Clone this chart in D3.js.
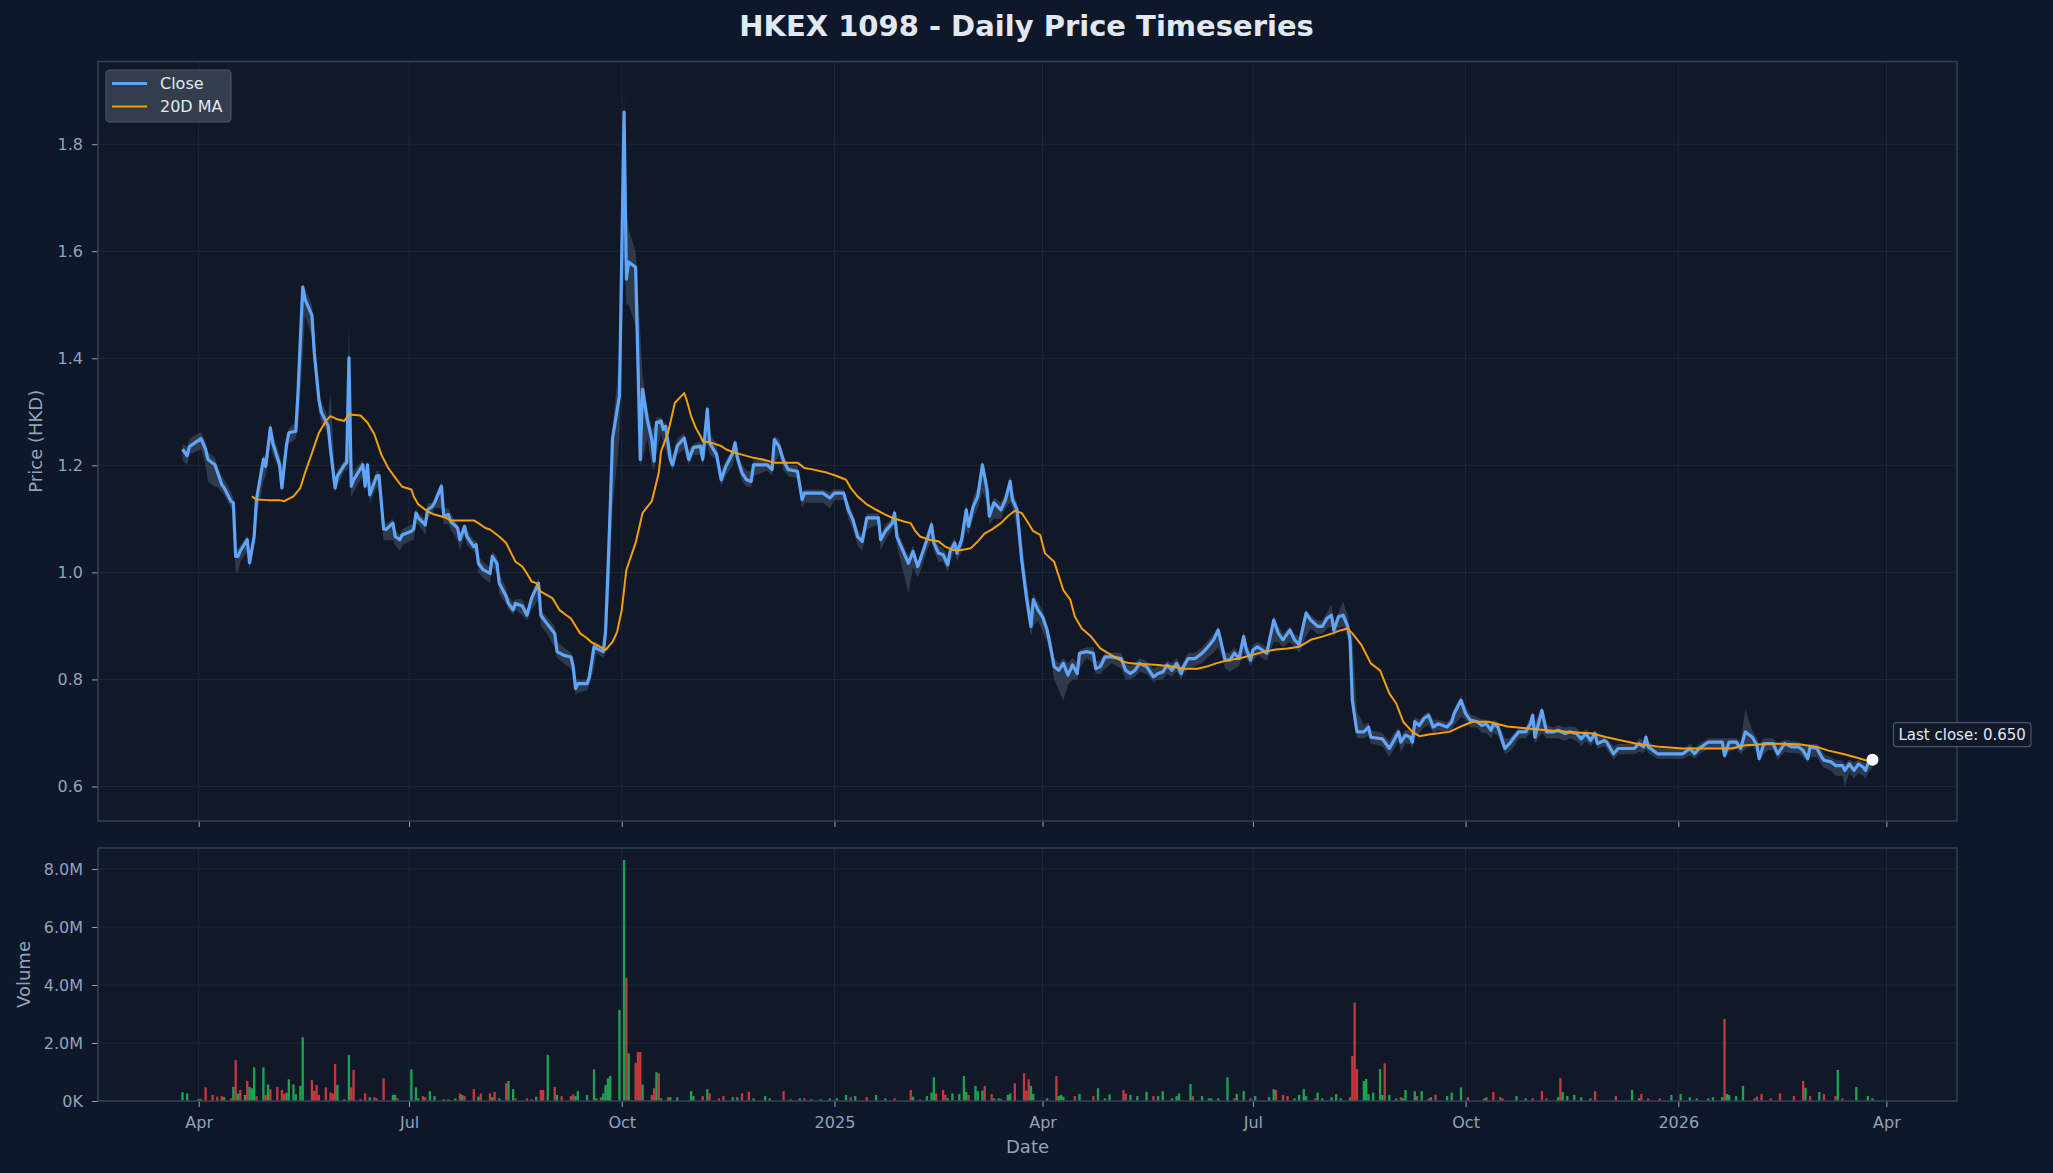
<!DOCTYPE html>
<html><head><meta charset="utf-8">
<script src="https://cdn.jsdelivr.net/npm/d3@7"></script>
<style>html,body{margin:0;padding:0;background:#0f172a;}svg{display:block}</style>
</head><body>
<script>
// [date, close, low, high]
const priceRows = [
["2024-03-25",1.230,1.210,1.240],["2024-03-27",1.218,1.200,1.235],["2024-03-28",1.235,1.220,1.250],
["2024-04-02",1.250,1.230,1.262],["2024-04-04",1.230,1.200,1.245],["2024-04-05",1.211,1.170,1.225],
["2024-04-08",1.201,1.160,1.215],["2024-04-09",1.189,1.160,1.200],["2024-04-11",1.164,1.150,1.180],
["2024-04-12",1.158,1.145,1.175],["2024-04-15",1.133,1.120,1.150],["2024-04-16",1.130,1.110,1.140],
["2024-04-17",1.030,1.000,1.040],["2024-04-18",1.030,1.000,1.045],["2024-04-19",1.040,1.020,1.050],
["2024-04-22",1.061,1.040,1.070],["2024-04-23",1.018,1.005,1.030],["2024-04-25",1.067,1.050,1.080],
["2024-04-26",1.136,1.100,1.150],["2024-04-29",1.211,1.170,1.220],["2024-04-30",1.198,1.180,1.215],
["2024-05-02",1.270,1.240,1.280],["2024-05-03",1.242,1.220,1.260],["2024-05-06",1.201,1.190,1.220],
["2024-05-07",1.158,1.150,1.200],["2024-05-09",1.239,1.220,1.250],["2024-05-10",1.261,1.240,1.270],
["2024-05-13",1.264,1.250,1.280],["2024-05-14",1.340,1.270,1.350],["2024-05-16",1.533,1.400,1.540],
["2024-05-17",1.510,1.480,1.530],["2024-05-20",1.480,1.440,1.500],["2024-05-21",1.410,1.380,1.450],
["2024-05-23",1.323,1.300,1.340],["2024-05-24",1.300,1.280,1.320],["2024-05-27",1.273,1.260,1.290],
["2024-05-28",1.230,1.220,1.335],["2024-05-30",1.158,1.150,1.180],["2024-05-31",1.180,1.160,1.190],
["2024-06-03",1.201,1.190,1.210],["2024-06-04",1.205,1.190,1.220],["2024-06-05",1.401,1.200,1.470],
["2024-06-06",1.161,1.140,1.220],["2024-06-07",1.173,1.150,1.190],["2024-06-11",1.201,1.180,1.210],
["2024-06-12",1.161,1.150,1.180],["2024-06-13",1.201,1.180,1.210],["2024-06-14",1.145,1.130,1.160],
["2024-06-17",1.180,1.160,1.190],["2024-06-18",1.181,1.150,1.190],["2024-06-20",1.081,1.060,1.100],
["2024-06-21",1.080,1.060,1.090],["2024-06-24",1.092,1.060,1.100],["2024-06-25",1.067,1.050,1.080],
["2024-06-27",1.061,1.040,1.070],["2024-06-28",1.070,1.050,1.080],["2024-07-02",1.077,1.060,1.090],
["2024-07-03",1.081,1.060,1.090],["2024-07-04",1.111,1.090,1.120],["2024-07-05",1.102,1.090,1.110],
["2024-07-08",1.089,1.070,1.100],["2024-07-09",1.117,1.100,1.130],["2024-07-11",1.123,1.110,1.130],
["2024-07-12",1.130,1.120,1.140],["2024-07-15",1.161,1.120,1.170],["2024-07-16",1.105,1.090,1.120],
["2024-07-18",1.108,1.090,1.120],["2024-07-19",1.095,1.080,1.110],["2024-07-22",1.083,1.060,1.090],
["2024-07-23",1.061,1.040,1.070],["2024-07-25",1.086,1.070,1.090],["2024-07-26",1.067,1.050,1.080],
["2024-07-29",1.048,1.040,1.060],["2024-07-30",1.052,1.030,1.060],["2024-07-31",1.017,1.000,1.030],
["2024-08-02",1.005,0.990,1.020],["2024-08-05",0.998,0.980,1.010],["2024-08-06",1.030,1.010,1.040],
["2024-08-08",1.017,1.000,1.030],["2024-08-09",0.980,0.960,1.000],["2024-08-12",0.955,0.940,0.970],
["2024-08-13",0.942,0.930,0.955],["2024-08-15",0.930,0.920,0.945],["2024-08-16",0.942,0.930,0.950],
["2024-08-19",0.937,0.920,0.950],["2024-08-21",0.920,0.910,0.930],["2024-08-23",0.952,0.930,0.960],
["2024-08-26",0.980,0.950,0.990],["2024-08-27",0.920,0.900,0.930],["2024-08-29",0.908,0.890,0.920],
["2024-09-02",0.886,0.860,0.900],["2024-09-03",0.852,0.840,0.870],["2024-09-06",0.845,0.830,0.860],
["2024-09-09",0.842,0.820,0.850],["2024-09-10",0.824,0.810,0.840],["2024-09-11",0.783,0.770,0.800],
["2024-09-12",0.792,0.775,0.800],["2024-09-16",0.792,0.780,0.800],["2024-09-17",0.805,0.790,0.820],
["2024-09-19",0.861,0.820,0.870],["2024-09-20",0.858,0.850,0.870],["2024-09-23",0.852,0.840,0.860],
["2024-09-24",0.890,0.850,0.900],["2024-09-25",1.000,0.920,1.010],["2024-09-26",1.120,1.000,1.140],
["2024-09-27",1.250,1.120,1.270],["2024-09-30",1.330,1.250,1.400],["2024-10-02",1.860,1.600,1.890],
["2024-10-03",1.548,1.500,1.680],["2024-10-04",1.580,1.500,1.640],["2024-10-07",1.570,1.460,1.600],
["2024-10-09",1.211,1.200,1.450],["2024-10-10",1.342,1.210,1.370],["2024-10-12",1.286,1.250,1.310],
["2024-10-14",1.248,1.200,1.270],["2024-10-15",1.208,1.190,1.270],["2024-10-16",1.280,1.220,1.290],
["2024-10-18",1.283,1.260,1.290],["2024-10-19",1.267,1.240,1.280],["2024-10-20",1.273,1.230,1.280],
["2024-10-22",1.211,1.200,1.240],["2024-10-23",1.201,1.190,1.220],["2024-10-25",1.236,1.220,1.250],
["2024-10-28",1.251,1.230,1.260],["2024-10-30",1.211,1.200,1.230],["2024-11-01",1.233,1.220,1.240],
["2024-11-04",1.236,1.220,1.245],["2024-11-05",1.211,1.200,1.230],["2024-11-07",1.305,1.240,1.315],
["2024-11-08",1.242,1.220,1.260],["2024-11-11",1.220,1.210,1.240],["2024-11-13",1.173,1.160,1.190],
["2024-11-15",1.198,1.180,1.210],["2024-11-18",1.223,1.200,1.230],["2024-11-19",1.242,1.220,1.250],
["2024-11-20",1.214,1.200,1.230],["2024-11-22",1.186,1.170,1.200],["2024-11-24",1.173,1.160,1.190],
["2024-11-26",1.170,1.160,1.190],["2024-11-27",1.201,1.180,1.210],["2024-12-03",1.201,1.190,1.210],
["2024-12-05",1.192,1.180,1.200],["2024-12-06",1.248,1.200,1.255],["2024-12-08",1.236,1.220,1.250],
["2024-12-10",1.208,1.190,1.220],["2024-12-12",1.192,1.180,1.200],["2024-12-16",1.189,1.175,1.200],
["2024-12-18",1.136,1.120,1.150],["2024-12-19",1.148,1.130,1.155],["2024-12-27",1.148,1.130,1.155],
["2024-12-30",1.139,1.120,1.150],["2025-01-01",1.148,1.135,1.155],["2025-01-05",1.148,1.135,1.155],
["2025-01-07",1.117,1.100,1.130],["2025-01-09",1.098,1.080,1.110],["2025-01-11",1.067,1.050,1.080],
["2025-01-13",1.058,1.040,1.070],["2025-01-15",1.102,1.080,1.110],["2025-01-20",1.102,1.090,1.110],
["2025-01-21",1.061,1.040,1.070],["2025-01-23",1.077,1.060,1.090],["2025-01-26",1.092,1.080,1.100],
["2025-01-27",1.111,1.090,1.120],["2025-01-28",1.067,1.050,1.080],["2025-02-02",1.017,0.960,1.030],
["2025-02-04",1.039,1.010,1.050],["2025-02-06",1.011,0.990,1.020],["2025-02-07",1.023,1.000,1.030],
["2025-02-10",1.061,1.040,1.070],["2025-02-12",1.089,1.060,1.100],["2025-02-13",1.055,1.040,1.070],
["2025-02-15",1.036,1.020,1.050],["2025-02-17",1.033,1.020,1.045],["2025-02-19",1.014,1.000,1.030],
["2025-02-20",1.039,1.020,1.050],["2025-02-22",1.055,1.040,1.065],["2025-02-23",1.036,1.020,1.050],
["2025-02-25",1.061,1.040,1.070],["2025-02-27",1.117,1.080,1.130],["2025-02-28",1.086,1.070,1.100],
["2025-03-02",1.123,1.100,1.140],["2025-03-04",1.142,1.120,1.160],["2025-03-06",1.201,1.150,1.210],
["2025-03-08",1.155,1.130,1.170],["2025-03-09",1.105,1.090,1.120],["2025-03-11",1.130,1.100,1.140],
["2025-03-14",1.117,1.100,1.130],["2025-03-16",1.136,1.120,1.150],["2025-03-18",1.170,1.130,1.180],
["2025-03-19",1.136,1.120,1.150],["2025-03-21",1.117,1.080,1.130],["2025-03-23",1.023,1.000,1.060],
["2025-03-25",0.955,0.930,0.990],["2025-03-27",0.899,0.880,0.930],["2025-03-28",0.949,0.900,0.960],
["2025-03-30",0.930,0.910,0.945],["2025-04-01",0.917,0.890,0.930],["2025-04-03",0.892,0.870,0.905],
["2025-04-05",0.849,0.830,0.870],["2025-04-06",0.824,0.800,0.840],["2025-04-08",0.817,0.780,0.830],
["2025-04-10",0.830,0.760,0.840],["2025-04-12",0.808,0.790,0.830],["2025-04-14",0.827,0.800,0.840],
["2025-04-16",0.811,0.800,0.830],["2025-04-17",0.849,0.820,0.855],["2025-04-20",0.852,0.840,0.860],
["2025-04-23",0.849,0.830,0.860],["2025-04-24",0.820,0.810,0.835],["2025-04-26",0.824,0.810,0.835],
["2025-04-28",0.842,0.820,0.850],["2025-05-01",0.842,0.830,0.850],["2025-05-05",0.839,0.820,0.850],
["2025-05-07",0.817,0.800,0.830],["2025-05-09",0.811,0.800,0.825],["2025-05-11",0.817,0.805,0.830],
["2025-05-13",0.830,0.815,0.840],["2025-05-16",0.824,0.810,0.835],["2025-05-19",0.805,0.795,0.820],
["2025-05-21",0.811,0.800,0.825],["2025-05-23",0.814,0.800,0.825],["2025-05-25",0.827,0.810,0.835],
["2025-05-27",0.817,0.805,0.830],["2025-05-29",0.830,0.815,0.840],["2025-05-31",0.811,0.800,0.825],
["2025-06-01",0.824,0.810,0.835],["2025-06-03",0.839,0.820,0.850],["2025-06-06",0.839,0.825,0.850],
["2025-06-09",0.849,0.830,0.860],["2025-06-11",0.858,0.840,0.870],["2025-06-14",0.874,0.850,0.885],
["2025-06-16",0.892,0.860,0.900],["2025-06-17",0.874,0.850,0.885],["2025-06-19",0.836,0.820,0.850],
["2025-06-21",0.836,0.815,0.850],["2025-06-23",0.849,0.820,0.860],["2025-06-25",0.839,0.825,0.850],
["2025-06-27",0.880,0.850,0.890],["2025-06-28",0.858,0.840,0.870],["2025-06-30",0.836,0.825,0.850],
["2025-07-01",0.855,0.835,0.865],["2025-07-03",0.861,0.845,0.870],["2025-07-05",0.855,0.840,0.865],
["2025-07-07",0.849,0.835,0.860],["2025-07-08",0.870,0.845,0.880],["2025-07-10",0.911,0.870,0.920],
["2025-07-12",0.886,0.870,0.900],["2025-07-14",0.874,0.860,0.885],["2025-07-17",0.892,0.870,0.900],
["2025-07-19",0.874,0.860,0.885],["2025-07-21",0.865,0.850,0.880],["2025-07-24",0.924,0.880,0.930],
["2025-07-26",0.911,0.895,0.920],["2025-07-29",0.899,0.885,0.910],["2025-07-31",0.899,0.885,0.910],
["2025-08-02",0.914,0.895,0.925],["2025-08-04",0.920,0.900,0.940],["2025-08-05",0.892,0.880,0.905],
["2025-08-07",0.917,0.895,0.925],["2025-08-09",0.920,0.900,0.945],["2025-08-11",0.899,0.880,0.920],
["2025-08-12",0.874,0.860,0.890],["2025-08-13",0.761,0.740,0.880],["2025-08-15",0.702,0.690,0.740],
["2025-08-18",0.702,0.690,0.715],["2025-08-20",0.711,0.695,0.720],["2025-08-21",0.692,0.680,0.705],
["2025-08-26",0.689,0.675,0.700],["2025-08-29",0.671,0.655,0.685],["2025-08-31",0.686,0.670,0.700],
["2025-09-02",0.702,0.685,0.710],["2025-09-03",0.683,0.665,0.695],["2025-09-05",0.696,0.680,0.705],
["2025-09-07",0.692,0.680,0.705],["2025-09-08",0.683,0.670,0.700],["2025-09-09",0.721,0.690,0.730],
["2025-09-11",0.714,0.700,0.725],["2025-09-13",0.727,0.710,0.735],["2025-09-15",0.733,0.715,0.740],
["2025-09-17",0.711,0.700,0.725],["2025-09-19",0.717,0.705,0.725],["2025-09-23",0.711,0.700,0.720],
["2025-09-25",0.721,0.705,0.730],["2025-09-26",0.736,0.715,0.745],["2025-09-29",0.761,0.730,0.770],
["2025-10-01",0.736,0.725,0.750],["2025-10-03",0.724,0.710,0.735],["2025-10-06",0.721,0.710,0.730],
["2025-10-08",0.714,0.700,0.725],["2025-10-10",0.717,0.700,0.725],["2025-10-12",0.705,0.690,0.715],
["2025-10-13",0.717,0.700,0.725],["2025-10-15",0.711,0.695,0.720],["2025-10-18",0.671,0.660,0.690],
["2025-10-20",0.680,0.665,0.690],["2025-10-22",0.692,0.675,0.700],["2025-10-24",0.702,0.690,0.710],
["2025-10-27",0.702,0.690,0.710],["2025-10-29",0.717,0.700,0.730],["2025-10-30",0.733,0.705,0.740],
["2025-10-31",0.692,0.680,0.720],["2025-11-03",0.742,0.700,0.750],["2025-11-05",0.702,0.690,0.715],
["2025-11-08",0.702,0.690,0.710],["2025-11-10",0.705,0.690,0.715],["2025-11-13",0.699,0.685,0.710],
["2025-11-15",0.702,0.690,0.712],["2025-11-18",0.699,0.685,0.710],["2025-11-20",0.689,0.675,0.700],
["2025-11-22",0.699,0.685,0.708],["2025-11-24",0.686,0.675,0.700],["2025-11-26",0.699,0.685,0.705],
["2025-11-27",0.680,0.670,0.695],["2025-11-30",0.686,0.675,0.695],["2025-12-01",0.683,0.670,0.690],
["2025-12-04",0.661,0.650,0.675],["2025-12-06",0.671,0.660,0.680],["2025-12-10",0.671,0.660,0.680],
["2025-12-13",0.671,0.660,0.680],["2025-12-15",0.680,0.665,0.690],["2025-12-17",0.674,0.662,0.685],
["2025-12-18",0.692,0.670,0.700],["2025-12-19",0.674,0.662,0.685],["2025-12-23",0.661,0.652,0.672],
["2025-12-30",0.661,0.652,0.670],["2026-01-03",0.661,0.652,0.670],["2026-01-06",0.671,0.658,0.680],
["2026-01-08",0.661,0.652,0.672],["2026-01-10",0.671,0.660,0.680],["2026-01-14",0.683,0.670,0.690],
["2026-01-20",0.683,0.670,0.690],["2026-01-21",0.658,0.650,0.690],["2026-01-23",0.683,0.665,0.690],
["2026-01-26",0.683,0.670,0.690],["2026-01-28",0.671,0.660,0.685],["2026-01-30",0.702,0.670,0.745],
["2026-02-02",0.692,0.675,0.705],["2026-02-04",0.677,0.665,0.690],["2026-02-05",0.652,0.645,0.680],
["2026-02-07",0.680,0.660,0.690],["2026-02-09",0.680,0.668,0.690],["2026-02-11",0.680,0.668,0.690],
["2026-02-13",0.661,0.650,0.680],["2026-02-16",0.680,0.665,0.688],["2026-02-19",0.674,0.662,0.685],
["2026-02-22",0.674,0.662,0.683],["2026-02-24",0.667,0.655,0.680],["2026-02-26",0.652,0.645,0.678],
["2026-02-27",0.674,0.655,0.680],["2026-03-02",0.671,0.655,0.680],["2026-03-04",0.655,0.640,0.670],
["2026-03-05",0.649,0.635,0.660],["2026-03-08",0.646,0.630,0.655],["2026-03-10",0.639,0.620,0.650],
["2026-03-13",0.639,0.620,0.648],["2026-03-14",0.630,0.600,0.642],["2026-03-16",0.642,0.625,0.650],
["2026-03-18",0.630,0.615,0.645],["2026-03-20",0.642,0.625,0.650],["2026-03-22",0.636,0.620,0.645],
["2026-03-23",0.630,0.615,0.645],["2026-03-24",0.642,0.625,0.650],["2026-03-26",0.650,0.635,0.655]
];

// [date, 20-day moving average]
const maRows = [
["2024-04-24",1.142],["2024-04-26",1.136],["2024-05-01",1.135],["2024-05-06",1.135],["2024-05-08",1.133],
["2024-05-12",1.142],["2024-05-15",1.158],["2024-05-17",1.186],["2024-05-20",1.223],["2024-05-23",1.261],
["2024-05-26",1.283],["2024-05-28",1.292],["2024-05-31",1.286],["2024-06-03",1.283],["2024-06-05",1.295],
["2024-06-10",1.293],["2024-06-13",1.280],["2024-06-16",1.258],["2024-06-19",1.220],["2024-06-22",1.195],
["2024-06-25",1.177],["2024-06-28",1.160],["2024-07-02",1.155],["2024-07-03",1.142],["2024-07-05",1.127],
["2024-07-09",1.114],["2024-07-12",1.108],["2024-07-17",1.102],["2024-07-19",1.097],["2024-07-29",1.097],
["2024-07-31",1.092],["2024-08-03",1.083],["2024-08-05",1.080],["2024-08-09",1.067],["2024-08-12",1.055],
["2024-08-16",1.020],["2024-08-19",1.011],["2024-08-21",0.998],["2024-08-23",0.983],["2024-08-25",0.980],
["2024-08-27",0.964],["2024-09-01",0.952],["2024-09-04",0.930],["2024-09-07",0.920],["2024-09-09",0.914],
["2024-09-13",0.886],["2024-09-16",0.877],["2024-09-18",0.869],["2024-09-21",0.862],["2024-09-24",0.855],
["2024-09-27",0.870],["2024-09-29",0.889],["2024-10-01",0.930],["2024-10-03",1.005],["2024-10-05",1.030],
["2024-10-07",1.055],["2024-10-10",1.111],["2024-10-14",1.133],["2024-10-17",1.186],["2024-10-18",1.226],
["2024-10-21",1.261],["2024-10-24",1.317],["2024-10-28",1.335],["2024-10-29",1.323],["2024-10-31",1.292],
["2024-11-02",1.270],["2024-11-04",1.255],["2024-11-05",1.245],["2024-11-09",1.242],["2024-11-13",1.236],
["2024-11-15",1.230],["2024-11-18",1.225],["2024-11-22",1.220],["2024-11-27",1.214],["2024-12-01",1.211],
["2024-12-06",1.205],["2024-12-16",1.205],["2024-12-19",1.195],["2024-12-23",1.192],["2024-12-29",1.186],
["2025-01-02",1.180],["2025-01-06",1.173],["2025-01-08",1.158],["2025-01-11",1.142],["2025-01-15",1.127],
["2025-01-19",1.117],["2025-01-23",1.108],["2025-01-26",1.102],["2025-01-31",1.095],["2025-02-03",1.092],
["2025-02-05",1.077],["2025-02-07",1.067],["2025-02-11",1.061],["2025-02-15",1.058],["2025-02-18",1.048],
["2025-02-21",1.042],["2025-02-25",1.042],["2025-03-01",1.045],["2025-03-04",1.058],["2025-03-07",1.073],
["2025-03-10",1.080],["2025-03-14",1.092],["2025-03-17",1.105],["2025-03-20",1.115],["2025-03-23",1.111],
["2025-03-25",1.098],["2025-03-28",1.077],["2025-03-31",1.070],["2025-04-02",1.036],["2025-04-06",1.020],
["2025-04-10",0.967],["2025-04-13",0.949],["2025-04-15",0.917],["2025-04-18",0.895],["2025-04-22",0.880],
["2025-04-26",0.858],["2025-05-02",0.842],["2025-05-06",0.833],["2025-05-09",0.830],["2025-05-21",0.827],
["2025-05-27",0.824],["2025-06-01",0.820],["2025-06-07",0.820],["2025-06-11",0.824],["2025-06-15",0.830],
["2025-06-20",0.836],["2025-06-25",0.839],["2025-06-30",0.845],["2025-07-06",0.852],["2025-07-11",0.856],
["2025-07-16",0.858],["2025-07-21",0.861],["2025-07-26",0.874],["2025-07-31",0.880],["2025-08-05",0.887],
["2025-08-08",0.892],["2025-08-11",0.895],["2025-08-13",0.886],["2025-08-17",0.864],["2025-08-21",0.830],
["2025-08-25",0.817],["2025-08-29",0.774],["2025-09-01",0.755],["2025-09-04",0.721],["2025-09-08",0.702],
["2025-09-11",0.694],["2025-09-15",0.697],["2025-09-24",0.702],["2025-09-30",0.714],["2025-10-04",0.721],
["2025-10-11",0.721],["2025-10-19",0.712],["2025-10-29",0.708],["2025-11-08",0.704],["2025-11-15",0.702],
["2025-11-25",0.699],["2025-12-01",0.692],["2025-12-14",0.680],["2025-12-24",0.674],["2026-01-03",0.671],
["2026-01-14",0.671],["2026-01-24",0.671],["2026-01-30",0.677],["2026-02-10",0.680],["2026-02-22",0.679],
["2026-03-02",0.674],["2026-03-07",0.667],["2026-03-13",0.661],["2026-03-19",0.654],["2026-03-23",0.649],
["2026-03-26",0.647]
];

// [date, volume in millions, direction u=up d=down]
const volumeRows = [
["2024-03-25",0.30,"u"],["2024-03-27",0.26,"u"],["2024-04-01",0.07,"u"],["2024-04-02",0.07,"d"],["2024-04-04",0.47,"d"],
["2024-04-07",0.21,"d"],["2024-04-09",0.15,"d"],["2024-04-11",0.17,"d"],["2024-04-12",0.13,"u"],["2024-04-15",0.09,"d"],
["2024-04-16",0.49,"u"],["2024-04-17",1.41,"d"],["2024-04-18",0.26,"u"],["2024-04-19",0.38,"d"],["2024-04-21",0.21,"u"],
["2024-04-22",0.69,"d"],["2024-04-23",0.49,"u"],["2024-04-24",0.44,"u"],["2024-04-25",1.16,"u"],["2024-04-26",0.17,"d"],
["2024-04-29",1.16,"u"],["2024-04-30",0.21,"d"],["2024-05-01",0.57,"u"],["2024-05-02",0.40,"d"],["2024-05-05",0.49,"d"],
["2024-05-07",0.38,"d"],["2024-05-08",0.24,"d"],["2024-05-09",0.29,"u"],["2024-05-10",0.75,"u"],["2024-05-12",0.57,"u"],
["2024-05-13",0.24,"u"],["2024-05-15",0.52,"u"],["2024-05-16",2.20,"u"],["2024-05-20",0.72,"d"],["2024-05-21",0.35,"d"],
["2024-05-22",0.55,"d"],["2024-05-23",0.21,"d"],["2024-05-26",0.47,"d"],["2024-05-28",0.29,"d"],["2024-05-29",0.26,"d"],
["2024-05-30",1.28,"d"],["2024-05-31",0.55,"u"],["2024-06-03",0.06,"u"],["2024-06-05",1.59,"u"],["2024-06-06",0.47,"d"],
["2024-06-07",1.07,"d"],["2024-06-10",0.06,"u"],["2024-06-12",0.26,"d"],["2024-06-14",0.13,"u"],["2024-06-16",0.13,"d"],
["2024-06-17",0.09,"d"],["2024-06-20",0.78,"d"],["2024-06-24",0.21,"u"],["2024-06-25",0.21,"u"],["2024-06-26",0.09,"d"],
["2024-07-02",1.09,"u"],["2024-07-04",0.47,"u"],["2024-07-05",0.09,"u"],["2024-07-07",0.17,"d"],["2024-07-08",0.13,"d"],
["2024-07-10",0.34,"u"],["2024-07-12",0.17,"u"],["2024-07-16",0.06,"u"],["2024-07-18",0.06,"u"],["2024-07-21",0.09,"u"],
["2024-07-23",0.26,"d"],["2024-07-24",0.21,"u"],["2024-07-25",0.17,"d"],["2024-07-29",0.41,"d"],["2024-07-31",0.15,"u"],
["2024-08-01",0.26,"d"],["2024-08-05",0.26,"d"],["2024-08-06",0.13,"u"],["2024-08-07",0.31,"d"],["2024-08-09",0.09,"u"],
["2024-08-12",0.61,"d"],["2024-08-13",0.69,"u"],["2024-08-15",0.41,"u"],["2024-08-16",0.09,"d"],["2024-08-21",0.09,"d"],
["2024-08-23",0.06,"d"],["2024-08-25",0.15,"u"],["2024-08-27",0.38,"d"],["2024-08-28",0.38,"d"],["2024-08-30",1.59,"u"],
["2024-09-02",0.49,"d"],["2024-09-03",0.21,"u"],["2024-09-05",0.17,"d"],["2024-09-09",0.17,"d"],["2024-09-10",0.23,"d"],
["2024-09-11",0.17,"u"],["2024-09-12",0.34,"u"],["2024-09-16",0.21,"u"],["2024-09-19",1.09,"u"],["2024-09-20",0.09,"u"],
["2024-09-22",0.13,"d"],["2024-09-23",0.26,"u"],["2024-09-24",0.55,"u"],["2024-09-25",0.78,"u"],["2024-09-26",0.86,"u"],
["2024-09-30",3.14,"u"],["2024-10-02",8.31,"u"],["2024-10-03",4.25,"d"],["2024-10-04",1.64,"u"],["2024-10-07",1.32,"d"],
["2024-10-08",1.69,"d"],["2024-10-09",1.69,"d"],["2024-10-10",0.57,"u"],["2024-10-14",0.21,"d"],["2024-10-15",0.44,"d"],
["2024-10-16",0.99,"u"],["2024-10-17",0.95,"d"],["2024-10-18",0.09,"u"],["2024-10-21",0.13,"d"],["2024-10-22",0.13,"u"],
["2024-10-25",0.13,"u"],["2024-10-31",0.34,"u"],["2024-11-01",0.17,"u"],["2024-11-05",0.17,"d"],["2024-11-07",0.41,"u"],
["2024-11-08",0.26,"d"],["2024-11-12",0.09,"d"],["2024-11-14",0.17,"d"],["2024-11-18",0.13,"u"],["2024-11-20",0.13,"u"],
["2024-11-22",0.26,"d"],["2024-11-25",0.32,"d"],["2024-11-27",0.09,"u"],["2024-12-02",0.17,"u"],["2024-12-04",0.09,"u"],
["2024-12-10",0.34,"d"],["2024-12-13",0.06,"d"],["2024-12-17",0.09,"u"],["2024-12-19",0.09,"d"],["2024-12-22",0.06,"u"],
["2024-12-26",0.06,"u"],["2024-12-30",0.09,"u"],["2025-01-02",0.09,"u"],["2025-01-06",0.21,"u"],["2025-01-08",0.13,"d"],
["2025-01-10",0.17,"u"],["2025-01-15",0.13,"d"],["2025-01-19",0.21,"u"],["2025-01-23",0.09,"u"],["2025-01-27",0.09,"d"],
["2025-02-03",0.38,"d"],["2025-02-04",0.15,"u"],["2025-02-07",0.06,"d"],["2025-02-10",0.17,"u"],["2025-02-12",0.29,"u"],
["2025-02-13",0.82,"u"],["2025-02-14",0.26,"d"],["2025-02-17",0.38,"d"],["2025-02-18",0.21,"d"],["2025-02-19",0.09,"u"],
["2025-02-21",0.26,"u"],["2025-02-24",0.24,"u"],["2025-02-26",0.86,"u"],["2025-02-27",0.31,"u"],["2025-02-28",0.21,"d"],
["2025-03-03",0.52,"u"],["2025-03-04",0.34,"u"],["2025-03-06",0.36,"u"],["2025-03-07",0.52,"d"],["2025-03-10",0.24,"d"],
["2025-03-11",0.09,"u"],["2025-03-13",0.09,"u"],["2025-03-14",0.06,"u"],["2025-03-17",0.21,"u"],["2025-03-18",0.26,"u"],
["2025-03-20",0.61,"d"],["2025-03-24",0.95,"d"],["2025-03-25",0.36,"d"],["2025-03-26",0.75,"d"],["2025-03-27",0.52,"u"],
["2025-03-28",0.24,"u"],["2025-04-03",0.09,"u"],["2025-04-07",0.86,"d"],["2025-04-08",0.17,"u"],["2025-04-09",0.21,"u"],
["2025-04-10",0.15,"u"],["2025-04-15",0.17,"d"],["2025-04-17",0.24,"u"],["2025-04-23",0.17,"d"],["2025-04-25",0.44,"u"],
["2025-04-28",0.09,"u"],["2025-04-30",0.23,"u"],["2025-05-06",0.38,"d"],["2025-05-07",0.26,"d"],["2025-05-09",0.21,"u"],
["2025-05-12",0.17,"u"],["2025-05-16",0.32,"u"],["2025-05-19",0.17,"d"],["2025-05-21",0.17,"u"],["2025-05-23",0.34,"u"],
["2025-05-27",0.09,"u"],["2025-05-29",0.17,"u"],["2025-05-30",0.26,"u"],["2025-06-04",0.59,"u"],["2025-06-05",0.17,"d"],
["2025-06-09",0.17,"u"],["2025-06-12",0.09,"u"],["2025-06-13",0.09,"u"],["2025-06-16",0.09,"u"],["2025-06-20",0.82,"u"],
["2025-06-23",0.09,"d"],["2025-06-24",0.24,"u"],["2025-06-27",0.34,"u"],["2025-06-30",0.09,"d"],["2025-07-02",0.17,"u"],
["2025-07-08",0.13,"u"],["2025-07-10",0.41,"u"],["2025-07-11",0.38,"d"],["2025-07-14",0.21,"d"],["2025-07-16",0.17,"d"],
["2025-07-19",0.09,"u"],["2025-07-21",0.21,"u"],["2025-07-23",0.41,"u"],["2025-07-24",0.17,"u"],["2025-07-28",0.09,"d"],
["2025-07-29",0.29,"u"],["2025-07-31",0.09,"u"],["2025-08-04",0.13,"u"],["2025-08-06",0.24,"u"],["2025-08-08",0.09,"u"],
["2025-08-12",0.13,"d"],["2025-08-13",1.55,"d"],["2025-08-14",3.40,"d"],["2025-08-15",1.10,"d"],["2025-08-18",0.69,"u"],
["2025-08-19",0.76,"u"],["2025-08-20",0.24,"u"],["2025-08-22",0.29,"u"],["2025-08-25",1.10,"u"],["2025-08-26",0.21,"u"],
["2025-08-27",1.30,"d"],["2025-08-29",0.21,"u"],["2025-09-01",0.09,"u"],["2025-09-03",0.13,"d"],["2025-09-04",0.09,"u"],
["2025-09-05",0.38,"u"],["2025-09-09",0.34,"u"],["2025-09-10",0.17,"d"],["2025-09-12",0.34,"u"],["2025-09-15",0.09,"d"],
["2025-09-16",0.13,"u"],["2025-09-18",0.21,"d"],["2025-09-23",0.17,"u"],["2025-09-25",0.29,"u"],["2025-09-29",0.47,"u"],
["2025-10-02",0.13,"d"],["2025-10-09",0.09,"d"],["2025-10-10",0.13,"u"],["2025-10-13",0.31,"d"],["2025-10-16",0.13,"d"],
["2025-10-17",0.09,"d"],["2025-10-23",0.17,"u"],["2025-10-27",0.09,"u"],["2025-10-30",0.09,"d"],["2025-11-03",0.34,"d"],
["2025-11-05",0.09,"d"],["2025-11-10",0.13,"u"],["2025-11-11",0.79,"d"],["2025-11-12",0.31,"u"],["2025-11-14",0.17,"u"],
["2025-11-17",0.21,"u"],["2025-11-20",0.13,"u"],["2025-11-24",0.09,"u"],["2025-11-26",0.34,"d"],["2025-12-05",0.17,"d"],
["2025-12-12",0.38,"u"],["2025-12-15",0.09,"u"],["2025-12-16",0.24,"d"],["2025-12-19",0.09,"d"],["2025-12-24",0.09,"d"],
["2025-12-29",0.21,"u"],["2026-01-02",0.24,"u"],["2026-01-06",0.13,"u"],["2026-01-09",0.09,"u"],["2026-01-14",0.09,"u"],
["2026-01-16",0.13,"u"],["2026-01-20",0.13,"u"],["2026-01-21",2.83,"d"],["2026-01-22",0.24,"u"],["2026-01-23",0.21,"u"],
["2026-01-26",0.17,"u"],["2026-01-29",0.52,"u"],["2026-02-03",0.09,"d"],["2026-02-04",0.15,"d"],["2026-02-06",0.24,"d"],
["2026-02-10",0.09,"d"],["2026-02-14",0.26,"d"],["2026-02-20",0.17,"d"],["2026-02-24",0.69,"d"],["2026-02-25",0.46,"u"],
["2026-02-27",0.17,"d"],["2026-03-03",0.31,"u"],["2026-03-05",0.24,"d"],["2026-03-10",0.17,"d"],["2026-03-11",1.07,"u"],
["2026-03-13",0.09,"d"],["2026-03-19",0.48,"u"],["2026-03-24",0.17,"u"],["2026-03-26",0.09,"u"]
];

const xTickDates = ["2024-04-01","2024-07-01","2024-10-01","2025-01-01","2025-04-01","2025-07-01","2025-10-01","2026-01-01","2026-04-01"];
const xTickLabels = ["Apr","Jul","Oct","2025","Apr","Jul","Oct","2026","Apr"];
const priceTicks = [0.6,0.8,1.0,1.2,1.4,1.6,1.8];
const volumeTicks = [0,2e6,4e6,6e6,8e6];
const seriesNames = ["Close","20D MA"];
const titleText = "HKEX 1098 - Daily Price Timeseries";

const W = 2053, H = 1173;
const L = 98, R = 1957, pTop = 61.5, pBot = 821, vTop = 848, vBot = 1101;
const C = {bg:"#0f172a", face:"#111827", grid:"#1e293b", spine:"#334155", tick:"#94a3b8",
  text:"#e2e8f0", close:"#60a5fa", ma:"#f59e0b", band:"#475569", up:"#22c55e", down:"#ef4444"};
const FONT = "DejaVu Sans, Verdana, sans-serif";
const CLOSE_W = 3.2, MA_W = 2.0;

const parse = d3.utcParse("%Y-%m-%d");
const prices = priceRows.map(r => ({date: parse(r[0]), close: r[1], low: r[2], high: r[3]}));
const mas = maRows.map(r => ({date: parse(r[0]), v: r[1]}));
const vols = volumeRows.map(r => ({date: parse(r[0]), v: r[1] * 1e6, dir: r[2]}));
const tickDates = xTickDates.map(parse);

const ext = d3.extent(prices, d => d.date);
const span = ext[1] - ext[0];
const x = d3.scaleUtc().domain([new Date(+ext[0] - 0.05 * span), new Date(+ext[1] + 0.05 * span)]).range([L, R]);
const lo = d3.min(prices, d => d.low), hi = d3.max(prices, d => d.high);
const pr = hi - lo;
const y = d3.scaleLinear().domain([lo - 0.05 * pr, hi + 0.05 * pr]).range([pBot, pTop]);
const vmax = d3.max(vols, d => d.v);
const yv = d3.scaleLinear().domain([0, vmax * 1.05]).range([vBot, vTop]);

const svg = d3.select("body").append("svg").attr("width", W).attr("height", H)
  .style("font-family", FONT);
svg.append("rect").attr("width", W).attr("height", H).attr("fill", C.bg);

const defs = svg.append("defs");
defs.append("clipPath").attr("id", "clipP").append("rect").attr("x", L).attr("y", pTop).attr("width", R - L).attr("height", pBot - pTop);
defs.append("clipPath").attr("id", "clipV").append("rect").attr("x", L).attr("y", vTop).attr("width", R - L).attr("height", vBot - vTop);

svg.append("rect").attr("x", L).attr("y", pTop).attr("width", R - L).attr("height", pBot - pTop).attr("fill", C.face);
svg.append("rect").attr("x", L).attr("y", vTop).attr("width", R - L).attr("height", vBot - vTop).attr("fill", C.face);

function grid(top, bot, yScale, ticks) {
  const g = svg.append("g").attr("stroke", C.grid).attr("stroke-width", 1);
  g.selectAll(".gx").data(tickDates).join("line").attr("x1", d => x(d)).attr("x2", d => x(d)).attr("y1", top).attr("y2", bot);
  g.selectAll(".gy").data(ticks).join("line").attr("x1", L).attr("x2", R).attr("y1", d => yScale(d)).attr("y2", d => yScale(d));
}
grid(pTop, pBot, y, priceTicks);
grid(vTop, vBot, yv, volumeTicks);

const gp = svg.append("g").attr("clip-path", "url(#clipP)");
gp.append("path").datum(prices)
  .attr("d", d3.area().x(d => x(d.date)).y0(d => y(d.low)).y1(d => y(d.high)))
  .attr("fill", C.band).attr("fill-opacity", 0.55);
gp.append("path").datum(prices)
  .attr("d", d3.line().x(d => x(d.date)).y(d => y(d.close)))
  .attr("fill", "none").attr("stroke", C.close).attr("stroke-width", CLOSE_W).attr("stroke-linejoin", "round");
gp.append("path").datum(mas)
  .attr("d", d3.line().x(d => x(d.date)).y(d => y(d.v)))
  .attr("fill", "none").attr("stroke", C.ma).attr("stroke-width", MA_W).attr("stroke-linejoin", "round");

const dayW = x(new Date(Date.UTC(2025, 0, 2))) - x(new Date(Date.UTC(2025, 0, 1)));
const gv = svg.append("g").attr("clip-path", "url(#clipV)");
gv.selectAll("rect").data(vols).join("rect")
  .attr("x", d => x(d.date) - dayW / 2).attr("width", dayW)
  .attr("y", d => yv(d.v)).attr("height", d => yv(0) - yv(d.v))
  .attr("fill", d => d.dir === "u" ? C.up : C.down).attr("fill-opacity", 0.8);

function styleAxis(g) {
  g.select(".domain").remove();
  g.selectAll(".tick line").attr("stroke", C.tick).attr("stroke-width", 1);
  g.selectAll(".tick text").attr("fill", C.tick).style("font-size", "16px").style("font-family", FONT);
}
svg.append("g").attr("transform", `translate(${L},0)`)
  .call(d3.axisLeft(y).tickValues(priceTicks).tickFormat(d3.format(".1f")).tickSize(6).tickPadding(9)).call(styleAxis);
svg.append("g").attr("transform", `translate(0,${pBot})`)
  .call(d3.axisBottom(x).tickValues(tickDates).tickFormat("").tickSize(6)).call(styleAxis);
const vfmt = v => v >= 1e6 ? (v / 1e6).toFixed(1) + "M" : (v / 1e3).toFixed(0) + "K";
svg.append("g").attr("transform", `translate(${L},0)`)
  .call(d3.axisLeft(yv).tickValues(volumeTicks).tickFormat(vfmt).tickSize(6).tickPadding(9)).call(styleAxis);
svg.append("g").attr("transform", `translate(0,${vBot})`)
  .call(d3.axisBottom(x).tickValues(tickDates).tickFormat((d, i) => xTickLabels[i]).tickSize(6).tickPadding(9.5)).call(styleAxis);

[[pTop, pBot], [vTop, vBot]].forEach(([t, b]) => {
  svg.append("rect").attr("x", L).attr("y", t).attr("width", R - L).attr("height", b - t)
    .attr("fill", "none").attr("stroke", C.spine).attr("stroke-width", 1.5);
});

svg.append("text").attr("x", W / 2).attr("y", 36).attr("text-anchor", "middle")
  .attr("fill", C.text).style("font-size", "29px").style("font-weight", "bold").text(titleText);
svg.append("text").attr("transform", `translate(42,${(pTop + pBot) / 2}) rotate(-90)`).attr("text-anchor", "middle")
  .attr("fill", C.tick).style("font-size", "18px").text("Price (HKD)");
svg.append("text").attr("transform", `translate(30,${(vTop + vBot) / 2}) rotate(-90)`).attr("text-anchor", "middle")
  .attr("fill", C.tick).style("font-size", "18px").text("Volume");
svg.append("text").attr("x", (L + R) / 2).attr("y", 1153).attr("text-anchor", "middle")
  .attr("fill", C.tick).style("font-size", "18px").text("Date");

const lg = svg.append("g");
lg.append("rect").attr("x", 106).attr("y", 70).attr("width", 125).attr("height", 52).attr("rx", 4)
  .attr("fill", "#374151").attr("fill-opacity", 0.9).attr("stroke", "#4b5563").attr("stroke-width", 1.2);
const legendItems = [{name: seriesNames[0], color: C.close, w: CLOSE_W, y: 83.5}, {name: seriesNames[1], color: C.ma, w: MA_W, y: 106.5}];
legendItems.forEach(it => {
  lg.append("line").attr("x1", 112).attr("x2", 147).attr("y1", it.y).attr("y2", it.y).attr("stroke", it.color).attr("stroke-width", it.w);
  lg.append("text").attr("x", 160).attr("y", it.y + 5.8).attr("fill", C.text).style("font-size", "16px").text(it.name);
});

const last = prices[prices.length - 1];
const lx = x(last.date), ly = y(last.close);
svg.append("circle").attr("cx", lx).attr("cy", ly).attr("r", 6).attr("fill", "#ffffff");
const ag = svg.append("g");
const abox = ag.append("rect");
const atext = ag.append("text").attr("x", lx + 26).attr("y", ly - 20).attr("fill", C.text)
  .style("font-size", "15px").text("Last close: " + last.close.toFixed(3));
const tw = atext.node().getComputedTextLength();
abox.attr("x", lx + 21).attr("y", ly - 37).attr("width", tw + 10).attr("height", 24).attr("rx", 3)
  .attr("fill", C.face).attr("stroke", "#475569").attr("stroke-width", 1.2);
</script>
</body></html>
